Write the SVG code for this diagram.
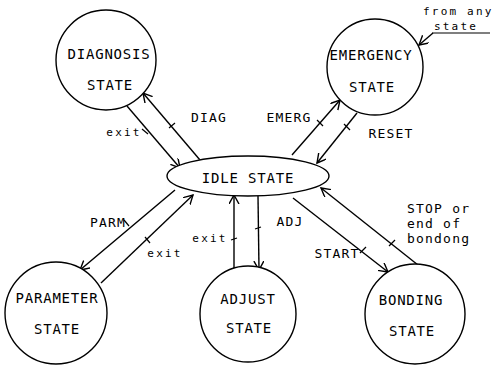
<svg xmlns="http://www.w3.org/2000/svg" width="496" height="367" viewBox="0 0 496 367">
<style>
.node{fill:#fff;stroke:#000;stroke-width:1.4}
.t{font-family:"DejaVu Sans Mono","Liberation Mono",monospace;font-size:14px;letter-spacing:0.8px;text-anchor:middle;fill:#000}
.l{font-family:"DejaVu Sans Mono","Liberation Mono",monospace;font-size:13px;letter-spacing:1.2px;text-anchor:middle;fill:#000}
.s{font-family:"DejaVu Sans Mono","Liberation Mono",monospace;font-size:11px;letter-spacing:2.2px;text-anchor:middle;fill:#000}
.c{fill:none;stroke:#000;stroke-width:1.4}
.k{fill:none;stroke:#000;stroke-width:1.2}
</style>
<defs>
<marker id="ah" markerUnits="userSpaceOnUse" markerWidth="12" markerHeight="12" refX="9" refY="5" orient="auto">
<path d="M0,0 L9,5 L0,10" fill="none" stroke="#000" stroke-width="1.4"/>
</marker>
</defs>
<g id="connectors">
<line class="c" x1="200" y1="160" x2="143" y2="93" marker-end="url(#ah)"/>
<line class="c" x1="127" y1="106" x2="180" y2="168" marker-end="url(#ah)"/>
<line class="c" x1="292" y1="155" x2="340" y2="100" marker-end="url(#ah)"/>
<line class="c" x1="357" y1="113" x2="317" y2="163" marker-end="url(#ah)"/>
<line class="c" x1="175" y1="190" x2="80" y2="270" marker-end="url(#ah)"/>
<line class="c" x1="101" y1="283" x2="193" y2="195" marker-end="url(#ah)"/>
<line class="c" x1="234" y1="268" x2="234" y2="195" marker-end="url(#ah)"/>
<line class="c" x1="258" y1="196" x2="259" y2="270" marker-end="url(#ah)"/>
<line class="c" x1="293" y1="198" x2="388" y2="272" marker-end="url(#ah)"/>
<line class="c" x1="418" y1="265" x2="321" y2="188" marker-end="url(#ah)"/>
<line class="c" x1="433" y1="33" x2="419" y2="45" marker-end="url(#ah)"/>
<line class="k" x1="432" y1="33" x2="490" y2="33"/>
<line class="k" x1="169" y1="128" x2="175" y2="123"/>
<line class="k" x1="142" y1="129" x2="148" y2="134"/>
<line class="k" x1="317" y1="120" x2="323" y2="126"/>
<line class="k" x1="344" y1="124" x2="350" y2="130"/>
<line class="k" x1="124" y1="220" x2="129" y2="226"/>
<line class="k" x1="145" y1="237" x2="150" y2="243"/>
<line class="k" x1="231" y1="240" x2="237" y2="238"/>
<line class="k" x1="255" y1="229" x2="261" y2="227"/>
<line class="k" x1="360" y1="253" x2="366" y2="247"/>
<line class="k" x1="389" y1="246" x2="395" y2="240"/>
</g>
<g id="diagnosis"><circle class="node" cx="106" cy="60" r="50"/><text class="t" x="109" y="59">DIAGNOSIS</text><text class="t" x="110" y="90">STATE</text></g>
<g id="emergency"><circle class="node" cx="375" cy="67" r="48"/><text class="t" x="371" y="60">EMERGENCY</text><text class="t" x="372" y="92">STATE</text></g>
<g id="idle"><ellipse class="node" cx="248" cy="176" rx="81" ry="20"/><text class="t" x="248" y="183">IDLE STATE</text></g>
<g id="parameter"><circle class="node" cx="56" cy="313" r="51"/><text class="t" x="57" y="303">PARAMETER</text><text class="t" x="57" y="334">STATE</text></g>
<g id="adjust"><circle class="node" cx="248" cy="314" r="48"/><text class="t" x="248" y="304">ADJUST</text><text class="t" x="249" y="333">STATE</text></g>
<g id="bonding"><circle class="node" cx="415" cy="314" r="50"/><text class="t" x="411" y="305">BONDING</text><text class="t" x="412" y="336">STATE</text></g>
<g id="labels">
<text class="l" x="209" y="122">DIAG</text>
<text class="s" x="124" y="136">exit</text>
<text class="l" x="289" y="122">EMERG</text>
<text class="l" x="391" y="138">RESET</text>
<text class="s" x="423" y="15" style="text-anchor:start">from any</text>
<text class="s" x="456" y="30">state</text>
<text class="l" x="108" y="227">PARM</text>
<text class="s" x="165" y="257">exit</text>
<text class="s" x="210" y="242">exit</text>
<text class="l" x="290" y="226">ADJ</text>
<text class="l" x="337" y="258">START</text>
<text class="l" x="407" y="213" style="text-anchor:start">STOP or</text>
<text class="l" x="407" y="228" style="text-anchor:start">end of</text>
<text class="l" x="407" y="243" style="text-anchor:start">bondong</text>
</g>
</svg>
